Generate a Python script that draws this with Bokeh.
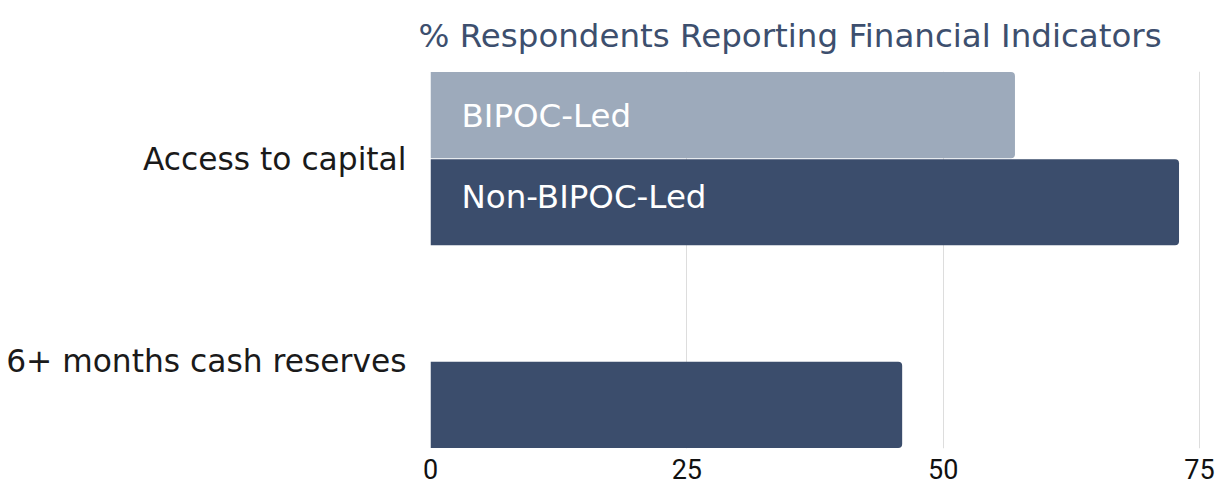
from bokeh.plotting import figure
from bokeh.models import ColumnDataSource, Range1d, FixedTicker
from bokeh.core.properties import value
from bokeh.embed import file_html
from bokeh.resources import INLINE

categories = ["Access to capital", "6+ months cash reserves"]
series = ["BIPOC-Led", "Non-BIPOC-Led"]
bipoc_led = [57, float("nan")]
non_bipoc_led = [73, 46]
x_ticks = [0, 25, 50, 75]
title_text = "% Respondents Reporting Financial Indicators"

colors = ["#9daabb", "#3b4d6c"]
FONT = "DejaVu Sans"

n = len(categories)
ypos = [n - 1 - i for i in range(n)]
half = 0.215
bar_h = 0.425

p = figure(width=1223, height=486, output_backend="svg", toolbar_location=None,
           x_range=Range1d(0, 76.07), y_range=Range1d(-0.43, n - 1 + 0.43),
           min_border_left=430, min_border_right=13, min_border_bottom=38,
           min_border_top=71)
p.outline_line_color = None
p.background_fill_color = "white"
p.border_fill_color = "white"

p.title.text = title_text
p.title.text_font = FONT
p.title.text_font_size = "32.5px"
p.title.text_font_style = "normal"
p.title.text_color = "#3d4f6e"
p.title.align = "left"
p.title.vertical_align = "top"
p.title.offset = -12
p.title.standoff = 30

label_dy = [1, -5]
for si, (name, vals) in enumerate(zip(series, [bipoc_led, non_bipoc_led])):
    off = half if si == 0 else -half
    src = ColumnDataSource(dict(y=[y + off for y in ypos], right=vals))
    p.hbar(y="y", left=0, right="right", height=bar_h, source=src,
           fill_color=colors[si], line_color=None,
           border_radius=(0, 4, 4, 0))
    # series label inside the first category's bar
    lsrc = ColumnDataSource(dict(x=[0], y=[ypos[0] + off], t=[name]))
    p.text(x="x", y="y", text="t", source=lsrc, x_offset=31, y_offset=label_dy[si],
           text_baseline="middle", text_align="left",
           text_color="white", text_font=value(FONT), text_font_size="32.5px")

p.xaxis.ticker = FixedTicker(ticks=x_ticks)
p.xaxis.axis_line_color = None
p.xaxis.major_tick_line_color = None
p.xaxis.major_tick_out = 0
p.xaxis.minor_tick_line_color = None
p.xaxis.minor_tick_out = 0
p.xaxis.major_label_text_font = "Roboto"
p.xaxis.major_label_text_font_size = "27px"
p.xaxis.major_label_text_color = "#111111"
p.xaxis.major_label_standoff = 10

p.yaxis.ticker = FixedTicker(ticks=ypos)
p.yaxis.major_label_overrides = {y: c for y, c in zip(ypos, categories)}
p.yaxis.axis_line_color = None
p.yaxis.major_tick_line_color = None
p.yaxis.major_tick_out = 0
p.yaxis.minor_tick_line_color = None
p.yaxis.minor_tick_out = 0
p.yaxis.major_label_text_font = FONT
p.yaxis.major_label_text_font_size = "31.3px"
p.yaxis.major_label_text_color = "#1a1a1a"
p.yaxis.major_label_standoff = 24

p.xgrid.ticker = FixedTicker(ticks=x_ticks)
p.xgrid.grid_line_color = "#dddddd"
p.xgrid.grid_line_width = 1
p.ygrid.grid_line_color = None

open("out.html", "w").write(file_html(p, INLINE))
